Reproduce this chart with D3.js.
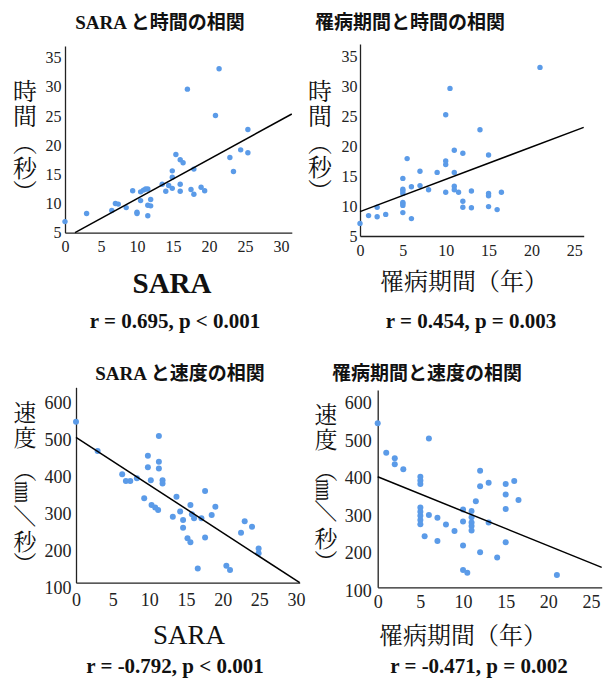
<!DOCTYPE html>
<html><head><meta charset="utf-8">
<script src="https://cdn.jsdelivr.net/npm/d3@7"></script>
<style>body{margin:0;background:#fff}svg{display:block}</style>
</head><body>
<script>
// ---------- data ----------
const titles = ["SARA と時間の相関", "罹病期間と時間の相関", "SARA と速度の相関", "罹病期間と速度の相関"];
const stats = ["r = 0.695, p < 0.001", "r = 0.454, p = 0.003", "r = -0.792, p < 0.001", "r = -0.471, p = 0.002"];
const xTitles = ["SARA", "罹病期間（年）", "SARA", "罹病期間（年）"];
const yTitleTime = ["時", "間", "︵", "秒", "︶"];
const yTitleSpeed = ["速", "度", "︵", "㎜", "／", "秒", "︶"];

const ticksSARA = [0, 5, 10, 15, 20, 25, 30];
const ticksDur = [0, 5, 10, 15, 20, 25];
const ticksTime = [5, 10, 15, 20, 25, 30, 35];
const ticksSpeed = [100, 200, 300, 400, 500, 600];

const p1SARA = [0,3,6.5,7,7.4,8.5,9.4,10,10,10.5,10.5,10.9,11.2,11.5,11.5,11.5,11.9,11.9,13.5,14,14.4,14.9,14.9,14.9,15.4,16,16,16,16.4,17,17.5,17.9,17.9,18.9,19.4,20.9,21.4,22.9,23.4,24.4,25.4,25.4];
const p1Time = [6.9,8.3,8.8,10.0,9.9,9.3,12.2,8.5,8.3,10.5,12.0,12.3,12.5,12.5,7.9,9.7,9.6,10.7,13.3,12.1,13.1,12.6,14.5,15.6,18.4,13.3,12.1,17.5,17.0,29.6,12.4,15.9,11.6,12.8,12.2,25.1,33.1,17.9,15.5,19.2,22.7,18.7];
const p1FitX = [1.39, 31.5], p1FitY = [5, 25.34];

const p2Dur = [0,1,2,2,3,5,5,5,5,5,5,5,5,5.5,6,6,7,7,8,9,10,10,10,10,10.5,11,11,11,11,11.5,12,12,12,13,13,14,15,15,15,15,16,16.5,21];
const p2Time = [7.1,8.4,8.2,9.8,8.6,8.9,10.1,10.4,10.6,12.1,12.5,12.8,14.6,17.9,7.9,13.2,15.8,13.4,12.7,15.6,25.2,16.9,17.5,12.3,29.6,19.3,15.6,13.3,12.7,12.3,18.8,10.8,9.8,12.5,9.7,22.7,18.5,12.1,11.7,9.9,9.4,12.3,33.1];
const p2FitX = [0, 26.1], p2FitY = [9.06, 23.1];

const p3SARA = [0,2.95,6.3,6.8,7.4,8.3,9.3,9.8,9.8,10.2,10.3,10.8,11.2,11.3,11.3,11.3,11.8,11.8,13.2,13.7,14.2,14.6,14.6,15.2,15.6,15.6,15.8,16.1,16.6,17.1,17.6,17.6,18.5,19,20.5,21,22.5,23,24,24.9,24.9];
const p3Speed = [548,469,406,388,388,395,341,456,425,390,323,316,309,510,440,422,390,381,291,345,305,282,261,233,222,323,298,287,151,287,361,235,296,318,158,147,248,279,264,205,192];
const p3FitX = [0, 30.5], p3FitY = [506, 112.4];

const p4Dur = [0,1,2,2,3,5,5,5,5,5,5,5,5,6,6,5.5,7,7,8,9,10,10,10,10,10.5,11,11,11,11,11,11.5,12,12,12,13,13,14,15,15,15,15,16,16.5,21];
const p4Speed = [545,467,452,436,423,403,393,384,321,310,299,288,277,505,301,245,294,232,276,259,316,284,220,155,148,312,295,281,272,260,338,419,378,202,387,281,188,384,356,317,229,392,341,142];
const p4FitX = [0, 26.25], p4FitY = [403, 162];

// ---------- drawing ----------
const SERIF = '"Liberation Serif","DejaVu Serif","Noto Sans CJK JP",serif';
const JP = '"Noto Serif CJK JP","Noto Sans CJK JP",sans-serif';
const DOT = "#5b9be8";

const svg = d3.select("body").append("svg").attr("width", 603).attr("height", 678);
svg.append("rect").attr("width", 603).attr("height", 678).attr("fill", "#fff");

const panels = [
  {xs: p1SARA, ys: p1Time, fx: p1FitX, fy: p1FitY, xd: [0, 31.5], xr: [65, 291.8], yd: [5, 37], yr: [232.7, 46],
   xt: ticksSARA, yt: ticksTime, fs: 16, xOff: 13.5, yPad: 3.5, r: 2.7,
   title: [160, 22], stat: [175, 321], xTitle: [172, 283, 29, "bold", SERIF], yTitle: yTitleTime,
   yPos: [[25, 89], [25, 114], [25, 141], [25, 166], [25, 190]], yFs: 24},
  {xs: p2Dur, ys: p2Time, fx: p2FitX, fy: p2FitY, xd: [0, 26.1], xr: [360, 583.7], yd: [5, 37], yr: [236, 44],
   xt: ticksDur, yt: ticksTime, fs: 16, xOff: 14, yPad: 2.5, r: 2.7,
   title: [410, 22], stat: [471, 321], xTitle: [464, 279, 24, "normal", JP], yTitle: yTitleTime,
   yPos: [[320, 89], [320, 114], [320, 141], [320, 165], [320, 189]], yFs: 24},
  {xs: p3SARA, ys: p3Speed, fx: p3FitX, fy: p3FitY, xd: [0, 30.5], xr: [76, 299.7], yd: [112.4, 641.6], yr: [582.7, 387.3],
   xt: ticksSARA, yt: ticksSpeed, fs: 18, xOff: 17, yPad: 4.5, r: 3,
   title: [180, 373], stat: [175, 666], xTitle: [189, 635, 27, "normal", SERIF], yTitle: yTitleSpeed,
   yPos: [[25, 411], [25, 436], [25, 469], [25, 492], [25, 516], [25, 540], [25, 562]], yFs: 23},
  {xs: p4Dur, ys: p4Speed, fx: p4FitX, fy: p4FitY, xd: [0, 26.25], xr: [377.7, 601.7], yd: [109, 633.7], yr: [587.3, 390],
   xt: ticksDur, yt: ticksSpeed, fs: 18, xOff: 14, yPad: 6, r: 3,
   title: [427, 373], stat: [479, 666], xTitle: [463, 633, 24, "normal", JP], yTitle: yTitleSpeed,
   yPos: [[326, 413], [326, 438], [326, 469], [326, 490], [326, 511], [326, 537], [326, 560]], yFs: 23}
];

panels.forEach((p, i) => {
  const x = d3.scaleLinear().domain(p.xd).range(p.xr);
  const y = d3.scaleLinear().domain(p.yd).range(p.yr);
  const g = svg.append("g");

  // axes
  const ax = g.append("g").attr("transform", `translate(0,${p.yr[0]})`)
    .call(d3.axisBottom(x).tickValues(p.xt).tickSize(0).tickSizeOuter(0).tickFormat(d3.format("d")));
  ax.selectAll("text").attr("y", p.xOff).attr("dy", "0.35em");
  const ay = g.append("g").attr("transform", `translate(${p.xr[0]},0)`)
    .call(d3.axisLeft(y).tickValues(p.yt).tickSize(0).tickSizeOuter(0).tickPadding(p.yPad).tickFormat(d3.format("d")));
  [ax, ay].forEach(a => {
    a.select(".domain").attr("stroke", "#222").attr("stroke-width", 1.3);
    a.selectAll("text").attr("font-family", SERIF).attr("font-size", p.fs).attr("fill", "#222");
  });

  // points
  g.append("g").selectAll("circle").data(p.xs.map((v, k) => [v, p.ys[k]])).join("circle")
    .attr("cx", d => x(d[0])).attr("cy", d => y(d[1])).attr("r", p.r).attr("fill", DOT);

  // regression line
  g.append("line").attr("x1", x(p.fx[0])).attr("y1", y(p.fy[0])).attr("x2", x(p.fx[1])).attr("y2", y(p.fy[1]))
    .attr("stroke", "#000").attr("stroke-width", 1.5);

  // title
  svg.append("text").attr("x", p.title[0]).attr("y", p.title[1]).attr("text-anchor", "middle")
    .attr("dominant-baseline", "central").attr("font-family", SERIF).attr("font-weight", "bold")
    .attr("font-size", 19).attr("fill", "#111").text(titles[i]);
  // stat
  svg.append("text").attr("x", p.stat[0]).attr("y", p.stat[1]).attr("text-anchor", "middle")
    .attr("dominant-baseline", "central").attr("font-family", SERIF).attr("font-weight", "bold")
    .attr("font-size", 21).attr("fill", "#111").text(stats[i]);
  // x title
  svg.append("text").attr("x", p.xTitle[0]).attr("y", p.xTitle[1]).attr("text-anchor", "middle")
    .attr("dominant-baseline", "central").attr("font-family", p.xTitle[4]).attr("font-weight", p.xTitle[3])
    .attr("font-size", p.xTitle[2]).attr("fill", "#111").text(xTitles[i]);
  // vertical y title
  p.yTitle.forEach((ch, k) => {
    const [cx, cy] = p.yPos[k];
    const rot = (ch === "㎜" || ch === "／") ? 90 : 0;
    svg.append("text").attr("transform", `translate(${cx},${cy}) rotate(${rot})`)
      .attr("text-anchor", "middle").attr("dominant-baseline", "central")
      .attr("font-family", JP).attr("font-size", ch === "㎜" ? p.yFs - 2 : p.yFs).attr("fill", "#111").text(ch);
  });
});
</script>
</body></html>
